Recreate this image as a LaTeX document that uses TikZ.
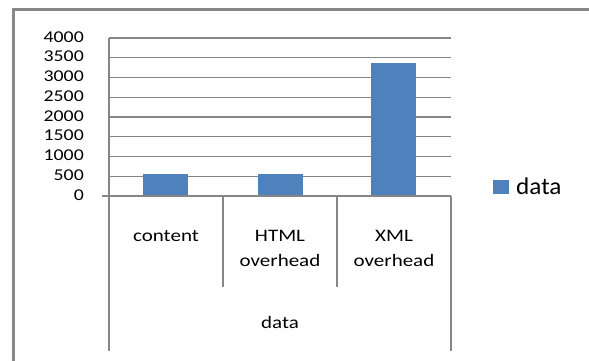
\documentclass[tikz,border=0pt]{standalone}
\usepackage{fontspec}
\setmainfont{Carlito}
\usepackage{graphicx}
\newcommand{\hstr}[2][1.2]{\scalebox{#1}[1]{#2}}
\definecolor{gridgray}{HTML}{868686}
\definecolor{bordergray}{HTML}{888888}
\definecolor{barblue}{HTML}{4F81BD}
\tikzset{
  gridline/.style={draw=gridgray, line width=1.1pt},
  axisline/.style={draw=gridgray, line width=1.6pt},
  numlabel/.style={anchor=base east, inner sep=0pt, font=\fontsize{16.5}{18}\selectfont},
  catlabel/.style={anchor=base, inner sep=0pt, font=\fontsize{17.5}{20}\selectfont},
  legtext/.style={anchor=base west, inner sep=0pt, font=\fontsize{24}{26}\selectfont},
  bar/.style={fill=barblue, draw=none}
}
\begin{document}
\begin{tikzpicture}[x=1pt,y=-1pt]
\useasboundingbox (0,0) rectangle (589,361);
\fill[white] (0,0) rectangle (589,361);
% outer chart border (only top and left visible)
\draw[bordergray, line width=3pt] (13.3,361) -- (13.3,9.5) -- (589,9.5);
% gridlines
\foreach \v in {1,...,8} {
  \draw[gridline] (109,{196-\v*19.75}) -- (451,{196-\v*19.75});
}
% bars
\path[bar] (143,196) rectangle (188,{196-560*0.0395});
\path[bar] (257.5,196) rectangle (302.5,{196-560*0.0395});
\path[bar] (371,196) rectangle (416,{196-3375*0.0395});
% axes and category box
\coordinate (a0) at (102,196);
\coordinate (a1) at (451,196);
\coordinate (v0) at (109,38);
\coordinate (v1) at (109,351);
\coordinate (d1a) at (223,196);
\coordinate (d1b) at (223,287);
\coordinate (d2a) at (337,196);
\coordinate (d2b) at (337,287);
\coordinate (r1) at (451,351);
\draw[axisline] (a0) -- (a1);
\draw[axisline] (v0) -- (v1);
\draw[axisline] (d1a) -- (d1b);
\draw[axisline] (d2a) -- (d2b);
\draw[axisline] (a1) -- (r1);
% value labels
\foreach \v/\t in {0/0,1/500,2/1000,3/1500,4/2000,5/2500,6/3000,7/3500,8/4000} {
  \node[numlabel] (n\v) at (84,{196-\v*19.75+4.2}) {\hstr{\t}};
}
% category labels
\node[catlabel] (c1) at (166,241) {\hstr{content}};
\node[catlabel] (c2a) at (280,241) {\hstr{HTML}};
\node[catlabel] (c2b) at (280,266) {\hstr{overhead}};
\node[catlabel] (c3a) at (394,241) {\hstr{XML}};
\node[catlabel] (c3b) at (394,266) {\hstr{overhead}};
\node[catlabel] (c4) at (280,328) {\hstr{data}};
% legend
\path[bar] (493,180) rectangle (509,194);
\node[legtext] (leg) at (516,194) {\hstr[1.05]{data}};
\end{tikzpicture}
\end{document}
